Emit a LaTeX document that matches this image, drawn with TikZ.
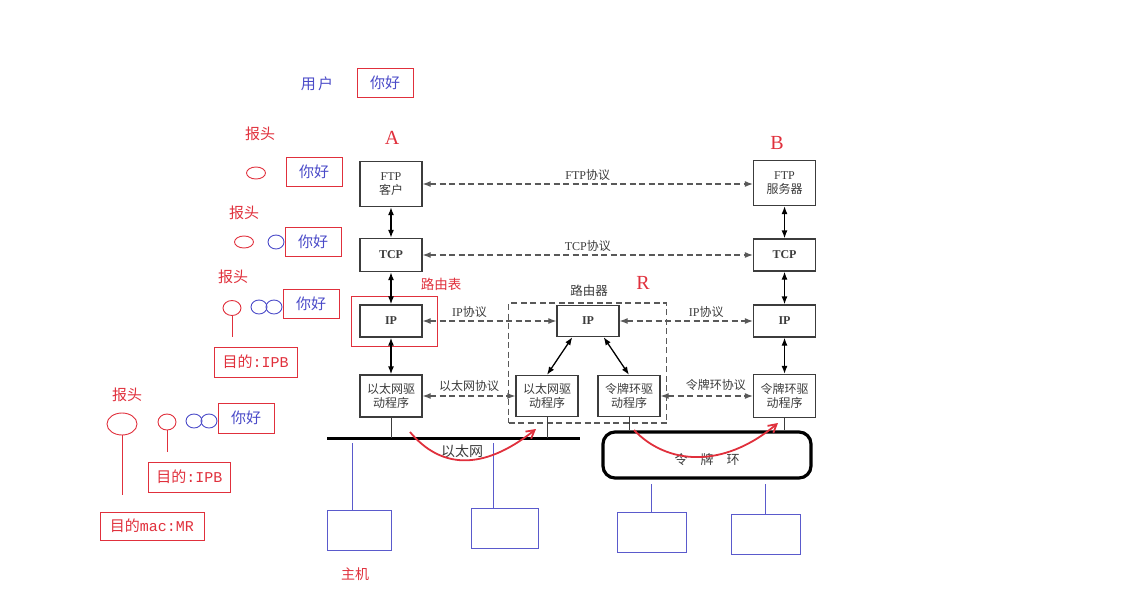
\documentclass[tikz,border=0pt]{standalone}
\usepackage{fontspec}
\setmainfont{Liberation Serif}
\setmonofont{Liberation Mono}
\newfontfamily\cjk{Noto Sans CJK SC}
\usetikzlibrary{arrows.meta,shapes.geometric}
\newcommand{\zh}[1]{{\cjk #1}}

\definecolor{ink}{HTML}{3c3c3c}
\definecolor{mark}{HTML}{e0303c}
\definecolor{pen}{HTML}{4a4ac8}
\definecolor{host}{HTML}{5a5acc}

\begin{document}
\begin{tikzpicture}[
  x=1pt, y=-1pt,
  every node/.style={inner sep=1pt},
  layer/.style={draw=ink, line width=1.3pt, minimum width=62pt, text=ink, align=center,
    font=\fontsize{12}{14.5}\selectfont},
  link/.style={draw=black, line width=1.3pt, {Latex[length=8pt,width=6pt]}-{Latex[length=8pt,width=6pt]}},
  proto/.style={draw=ink!85, line width=1.1pt, dash pattern=on 6pt off 3.5pt,
    {Latex[length=8pt,width=6pt]}-{Latex[length=8pt,width=6pt]}},
  ptext/.style={text=ink, font=\fontsize{12}{14}\selectfont},
  msg/.style={draw=mark, line width=0.9pt, text=pen, minimum width=56pt, minimum height=29pt,
    font=\cjk\fontsize{15}{17}\selectfont},
  hdr/.style={text=mark, font=\cjk\fontsize{15}{17}\selectfont},
  letter/.style={text=mark, font=\fontsize{20}{22}\selectfont},
  dest/.style={draw=mark, line width=0.9pt, text=mark, minimum height=30pt,
    font=\fontsize{15}{17}\selectfont},
  redring/.style={draw=mark, line width=0.9pt, ellipse, inner sep=0pt},
  bluering/.style={draw=pen, line width=0.9pt, ellipse, inner sep=0pt, minimum width=16pt, minimum height=14pt},
  tie/.style={draw=mark, line width=0.9pt},
  tablebox/.style={draw=mark, line width=0.9pt, minimum width=86pt, minimum height=50pt},
  routerbox/.style={draw=ink!85, line width=1.1pt, dash pattern=on 6pt off 3.5pt,
    minimum width=158pt, minimum height=120pt},
  bus/.style={draw=black, line width=3pt},
  drop/.style={draw=ink, line width=1pt},
  ring/.style={draw=black, line width=3.2pt, rounded corners=12pt, minimum width=208pt,
    minimum height=46pt},
  hostbox/.style={draw=host, line width=0.9pt, minimum height=40pt},
  hostline/.style={draw=host, line width=0.9pt},
  stroke/.style={draw=mark, line width=1.8pt, -{Straight Barb[length=8pt,width=9pt]}},
]
\useasboundingbox (0,0) rectangle (1129,615);

% encapsulation on the left
\node[hdr, text=pen] (user) at (317,84) {用\,户};
\node[msg] (data0) at (385,83) {你好};

\node[hdr] (hd1) at (260,134) {报头};
\node[redring, minimum width=19pt, minimum height=12pt] (r1h) at (256,173) {};
\node[msg] (r1d) at (314,172) {你好};

\node[hdr] (hd2) at (244,213) {报头};
\node[redring, minimum width=19pt, minimum height=12pt] (r2h) at (244,242) {};
\node[bluering] (r2a) at (276,242) {};
\node[msg] (r2d) at (313,242) {你好};

\node[hdr] (hd3) at (233,277) {报头};
\node[redring, minimum width=18pt, minimum height=15pt] (r3h) at (232,308) {};
\node[bluering] (r3a) at (259,307) {};
\node[bluering] (r3b) at (274,307) {};
\node[msg] (r3d) at (311,304) {你好};
\node[dest, minimum width=83pt] (r3ip) at (255.5,362) {\zh{目的}\texttt{:IPB}};
\draw[tie] (r3h.south) -- ([yshift=10pt]r3ip.north -| r3h.south);

\node[hdr] (hd4) at (127,395) {报头};
\node[redring, minimum width=30pt, minimum height=22pt] (r4m) at (122,424) {};
\node[redring, minimum width=18pt, minimum height=16pt] (r4h) at (167,422) {};
\node[bluering] (r4a) at (194,421) {};
\node[bluering] (r4b) at (209,421) {};
\node[msg, minimum height=30pt] (r4d) at (246,418) {你好};
\node[dest, minimum width=82pt] (r4ip) at (189.5,477) {\zh{目的}\texttt{:IPB}};
\node[dest, minimum width=104pt, minimum height=28pt] (r4mac) at (152,526) {\zh{目的}\texttt{mac:MR}};
\draw[tie] (r4m.south) -- ([yshift=17pt]r4mac.north -| r4m.south);
\draw[tie] (r4h.south) -- ([yshift=10pt]r4ip.north -| r4h.south);

% host A
\node[letter] (labA) at (392,138) {A};
\node[layer, minimum height=45pt] (ftpA) at (391,184) {FTP\\\zh{客户}};
\node[layer, minimum height=33pt] (tcpA) at (391,255) {\textbf{TCP}};
\node[layer, minimum height=32pt] (ipA) at (391,321) {\textbf{IP}};
\node[layer, minimum height=42pt] (ethA) at (391,396) {\zh{以太网驱}\\\zh{动程序}};
\node[tablebox] (table) at (394,321) {};
\node[hdr, font=\cjk\fontsize{13.5}{15}\selectfont] (tablelbl) at (441,284) {路由表};

% router R
\node[letter] (labR) at (643,283) {R};
\node[ptext, font=\cjk\fontsize{12.5}{14}\selectfont] (routerlbl) at (589,291) {路由器};
\node[routerbox] (router) at (587.5,363) {};
\node[layer, minimum height=31pt] (ipR) at (588,321) {\textbf{IP}};
\node[layer, minimum height=41pt] (ethR) at (547,396) {\zh{以太网驱}\\\zh{动程序}};
\node[layer, minimum height=41pt] (tokR) at (629,396) {\zh{令牌环驱}\\\zh{动程序}};

% host B
\node[letter] (labB) at (777,143) {B};
\node[layer, minimum height=45pt] (ftpB) at (784.5,183) {FTP\\\zh{服务器}};
\node[layer, minimum height=32pt] (tcpB) at (784.5,255) {\textbf{TCP}};
\node[layer, minimum height=32pt] (ipB) at (784.5,321) {\textbf{IP}};
\node[layer, minimum height=43pt] (tokB) at (784.5,396) {\zh{令牌环驱}\\\zh{动程序}};

% stacks
\draw[link] (ftpA) -- (tcpA);
\draw[link] (tcpA) -- (ipA);
\draw[link] (ipA) -- (ethA);
\draw[link] (ftpB) -- (tcpB);
\draw[link] (tcpB) -- (ipB);
\draw[link] (ipB) -- (tokB);
\draw[link] ([xshift=16pt]ipR.south west) -- (ethR.north);
\draw[link] ([xshift=-16pt]ipR.south east) -- (tokR.north);

% peer protocols
\draw[proto] (ftpA.east) -- (ftpA.east -| ftpB.west)
  node[ptext, midway, above=2pt] {FTP\zh{协议}};
\draw[proto] (tcpA.east) -- (tcpA.east -| tcpB.west)
  node[ptext, midway, above=2pt] {TCP\zh{协议}};
\draw[proto] (ipA.east) -- (ipA.east -| ipR.west)
  node[ptext, pos=0.35, above=2pt] {IP\zh{协议}};
\draw[proto] (ipR.east) -- (ipR.east -| ipB.west)
  node[ptext, pos=0.65, above=2pt] {IP\zh{协议}};
\draw[proto] (ethA.east) -- (ethA.east -| ethR.west)
  node[ptext, midway, above=3pt] {\zh{以太网协议}};
\draw[proto] (tokR.east) -- (tokR.east -| tokB.west)
  node[ptext, pos=0.6, above=4pt] {\zh{令牌环协议}};

% networks
\coordinate (busW) at (327,438);
\coordinate (busE) at (580,438);
\draw[bus] (busW) -- (busE);
\node[ptext, font=\cjk\fontsize{14}{15}\selectfont] (ethnet) at (462,451) {以太网};
\draw[drop] (ethA.south) -- (ethA.south |- busW);
\draw[drop] (ethR.south) -- (ethR.south |- busW);
\node[ring] (tring) at (707,455) {};
\node[ptext, font=\cjk\fontsize{13}{15}\selectfont] (ringlbl) at ([yshift=-5pt]tring.center) {令\quad 牌\quad 环};
\draw[drop] (tokR.south) -- (tokR.south |- tring.north);
\draw[drop] (tokB.south) -- (tokB.south |- tring.north);

% hosts
\node[hostbox, minimum width=64pt] (host1) at (359,530) {};
\node[hostbox, minimum width=67pt] (host2) at (504.5,528) {};
\node[hostbox, minimum width=69pt] (host3) at (651.5,532) {};
\node[hostbox, minimum width=69pt] (host4) at (765.5,534) {};
\draw[hostline] ([xshift=-7pt]host1.north) -- ([xshift=-7pt,yshift=-5pt]host1.north |- busW);
\draw[hostline] ([xshift=-11.5pt]host2.north) -- ([xshift=-11.5pt,yshift=-5pt]host2.north |- busW);
\draw[hostline] (host3.north) -- ([yshift=-4pt]host3.north |- tring.south);
\draw[hostline] (host4.north) -- ([yshift=-4pt]host4.north |- tring.south);
\node[hdr, font=\cjk\fontsize{14}{16}\selectfont] (hostlbl) at (355,574) {主机};

% frame path
\coordinate (hop1s) at (410,432);
\coordinate (hop1e) at (536,429);
\coordinate (hop2s) at (634,430);
\coordinate (hop2e) at (778,423);
\draw[stroke] (hop1s) .. controls (440,468) and (482,472) .. (hop1e);
\draw[stroke] (hop2s) .. controls (666,464) and (722,470) .. (hop2e);
\end{tikzpicture}
\end{document}
